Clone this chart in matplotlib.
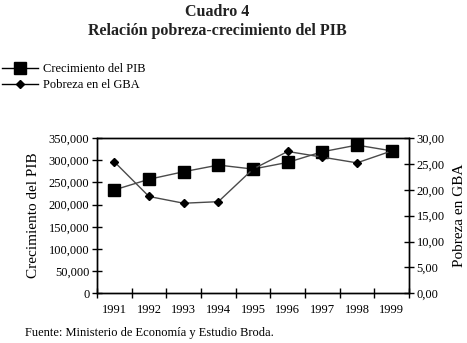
import matplotlib
matplotlib.use("Agg")
import matplotlib.pyplot as plt
import numpy as np
from matplotlib.ticker import FuncFormatter, FixedLocator
from matplotlib.lines import Line2D

years = ["1991", "1992", "1993", "1994", "1995", "1996", "1997", "1998", "1999"]
pib = [233000, 257000, 274000, 289000, 280000, 295000, 319000, 334000, 321000]
pobreza = [25.4, 18.7, 17.4, 17.7, 24.0, 27.4, 26.3, 25.2, 27.5]

title1 = "Cuadro 4"
title2 = "Relación pobreza-crecimiento del PIB"
source = "Fuente: Ministerio de Economía y Estudio Broda."

plt.rcParams["font.family"] = ["Liberation Serif", "DejaVu Serif"]

W, H = 467, 343
fig = plt.figure(figsize=(W / 100, H / 100), dpi=100)
ax = fig.add_axes([97 / W, 1 - 293.3 / H, (409 - 97) / W, (293.3 - 138) / H])
ax2 = ax.twinx()

x = np.arange(len(years))
line_c = "#4a4a4a"
ax.plot(x, pib, color=line_c, lw=1.0, marker="s", ms=9, mfc="black", mec="black", zorder=3)
ax2.plot(x, pobreza, color=line_c, lw=1.0, marker="D", ms=4, mfc="black", mec="black", zorder=3)

ax.set_xlim(-0.5, len(years) - 0.5)
ax.set_ylim(0, 350000)
ax2.set_ylim(0, 30)
ax.set_yticks(np.arange(0, 350001, 50000))
ax2.set_yticks(np.arange(0, 30.01, 5))
ax.yaxis.set_major_formatter(FuncFormatter(lambda v, p: f"{int(v):,}"))
ax2.yaxis.set_major_formatter(FuncFormatter(lambda v, p: f"{v:.2f}".replace(".", ",")))

ax.xaxis.set_major_locator(FixedLocator(np.arange(-0.5, len(years), 1.0)))
ax.xaxis.set_major_formatter(FuncFormatter(lambda v, p: ""))
ax.xaxis.set_minor_locator(FixedLocator(x))
ax.set_xticklabels(years, minor=True)
ax.tick_params(axis="x", which="minor", length=0, labelsize=9, pad=8)
ax.tick_params(axis="x", which="major", direction="inout", length=7, width=1)
ax.tick_params(axis="y", direction="inout", length=7, width=1, labelsize=9, pad=2)
ax2.tick_params(axis="y", direction="inout", length=7, width=1, labelsize=9, pad=2)

for a in (ax, ax2):
    for s in a.spines.values():
        s.set_linewidth(1.0)
        s.set_color("black")

ax.set_ylabel("Crecimiento del PIB", fontsize=11, labelpad=6)
ax2.set_ylabel("Pobreza en GBA", fontsize=11, labelpad=6)

fig.text(217 / W, 1 - 12 / H, title1, ha="center", va="center", fontsize=11.5, fontweight="bold", color="#222222")
fig.text(217 / W, 1 - 31 / H, title2, ha="center", va="center", fontsize=11.5, fontweight="bold", color="#222222")
fig.text(25 / W, 1 - 333 / H, source, ha="left", va="center", fontsize=9)

# legend
h1 = Line2D([], [], color="black", lw=1.0, marker="s", ms=9, mfc="black", mec="black")
h2 = Line2D([], [], color="black", lw=1.0, marker="D", ms=4, mfc="black", mec="black")
fig.legend([h1, h2], ["Crecimiento del PIB", "Pobreza en el GBA"], loc="upper left",
           bbox_to_anchor=(-3 / W, 1 - 58 / H), frameon=False, fontsize=9,
           handlelength=2.9, handletextpad=0.4, labelspacing=0.35, borderaxespad=0)

fig.savefig("out.png", dpi=100)
